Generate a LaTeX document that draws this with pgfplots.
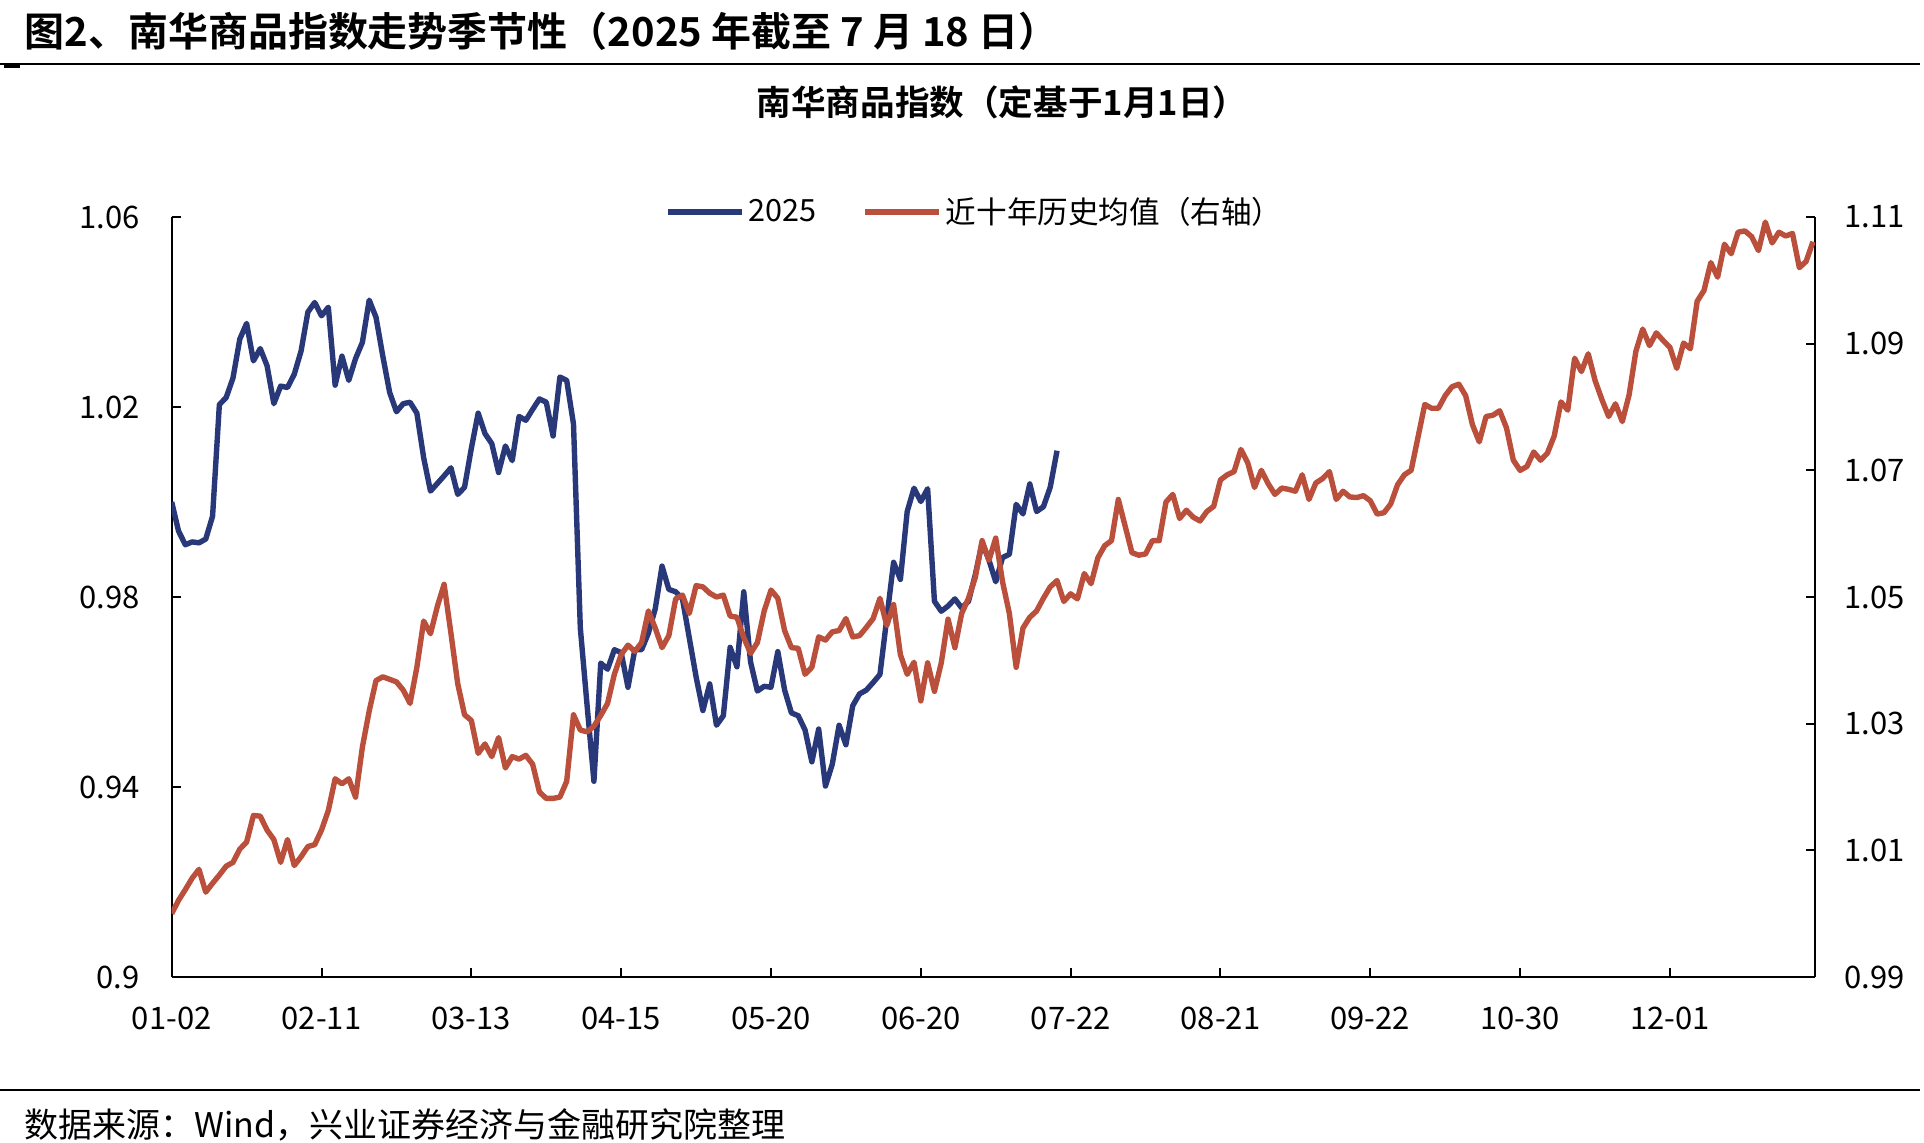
\documentclass[border=0pt]{standalone}
\usepackage{fontspec}
\setmainfont{Noto Sans CJK SC}[BoldFont={Noto Sans CJK SC Bold}]
\usepackage{pgfplots}
\usepackage{pgfplotstable}
\pgfplotsset{compat=1.18}
\definecolor{bl}{RGB}{41,56,120}
\definecolor{rd}{RGB}{186,80,60}

\pgfplotstableread{
x y
0 1.0000
1 0.9939
2 0.9910
3 0.9916
4 0.9914
5 0.9922
6 0.9970
7 1.0205
8 1.0220
9 1.0261
10 1.0343
11 1.0376
12 1.0297
13 1.0323
14 1.0287
15 1.0207
16 1.0244
17 1.0241
18 1.0269
19 1.0318
20 1.0400
21 1.0420
22 1.0392
23 1.0410
24 1.0246
25 1.0307
26 1.0256
27 1.0302
28 1.0336
29 1.0425
30 1.0389
31 1.0307
32 1.0231
33 1.0190
34 1.0207
35 1.0210
36 1.0187
37 1.0093
38 1.0023
39 1.0039
40 1.0055
41 1.0072
42 1.0016
43 1.0031
44 1.0113
45 1.0187
46 1.0144
47 1.0123
48 1.0062
49 1.0118
50 1.0087
51 1.0180
52 1.0172
53 1.0195
54 1.0217
55 1.0210
56 1.0139
57 1.0263
58 1.0256
59 1.0164
60 0.9735
61 0.9571
62 0.9412
63 0.9661
64 0.9648
65 0.9689
66 0.9683
67 0.9610
68 0.9689
69 0.9689
70 0.9724
71 0.9775
72 0.9865
73 0.9816
74 0.9811
75 0.9796
76 0.9714
77 0.9632
78 0.9561
79 0.9617
80 0.9530
81 0.9550
82 0.9694
83 0.9653
84 0.9811
85 0.9663
86 0.9602
87 0.9612
88 0.9610
89 0.9685
90 0.9604
91 0.9556
92 0.9550
93 0.9520
94 0.9453
95 0.9522
96 0.9402
97 0.9448
98 0.9530
99 0.9489
100 0.9571
101 0.9596
102 0.9604
103 0.9620
104 0.9637
105 0.9755
106 0.9873
107 0.9837
108 0.9980
109 1.0029
110 1.0001
111 1.0028
112 0.9791
113 0.9770
114 0.9781
115 0.9796
116 0.9777
117 0.9791
118 0.9847
119 0.9914
120 0.9878
121 0.9832
122 0.9883
123 0.9890
124 0.9995
125 0.9975
126 1.0038
127 0.9980
128 0.9990
129 1.0031
130 1.0108
}\blue

\pgfplotstableread{
x y
0 1.0000
1 1.0021
2 1.0038
3 1.0056
4 1.0070
5 1.0034
6 1.0048
7 1.0061
8 1.0075
9 1.0081
10 1.0102
11 1.0113
12 1.0155
13 1.0154
14 1.0132
15 1.0117
16 1.0081
17 1.0117
18 1.0076
19 1.0090
20 1.0106
21 1.0109
22 1.0132
23 1.0163
24 1.0213
25 1.0205
26 1.0213
27 1.0184
28 1.0263
29 1.0320
30 1.0368
31 1.0374
32 1.0370
33 1.0366
34 1.0353
35 1.0332
36 1.0389
37 1.0462
38 1.0442
39 1.0485
40 1.0520
41 1.0443
42 1.0363
43 1.0314
44 1.0305
45 1.0253
46 1.0268
47 1.0248
48 1.0278
49 1.0230
50 1.0248
51 1.0244
52 1.0250
53 1.0236
54 1.0192
55 1.0182
56 1.0182
57 1.0184
58 1.0209
59 1.0314
60 1.0290
61 1.0287
62 1.0296
63 1.0313
64 1.0332
65 1.0378
66 1.0409
67 1.0424
68 1.0414
69 1.0428
70 1.0478
71 1.0451
72 1.0420
73 1.0439
74 1.0497
75 1.0503
76 1.0474
77 1.0518
78 1.0516
79 1.0506
80 1.0500
81 1.0503
82 1.0470
83 1.0468
84 1.0436
85 1.0411
86 1.0428
87 1.0478
88 1.0511
89 1.0498
90 1.0447
91 1.0420
92 1.0419
93 1.0378
94 1.0389
95 1.0437
96 1.0432
97 1.0445
98 1.0447
99 1.0466
100 1.0437
101 1.0439
102 1.0452
103 1.0466
104 1.0498
105 1.0455
106 1.0488
107 1.0409
108 1.0378
109 1.0397
110 1.0336
111 1.0396
112 1.0351
113 1.0396
114 1.0465
115 1.0420
116 1.0474
117 1.0498
118 1.0531
119 1.0589
120 1.0558
121 1.0593
122 1.0524
123 1.0474
124 1.0389
125 1.0451
126 1.0468
127 1.0478
128 1.0498
129 1.0516
130 1.0526
131 1.0493
132 1.0505
133 1.0497
134 1.0537
135 1.0521
136 1.0562
137 1.0581
138 1.0589
139 1.0654
140 1.0612
141 1.0570
142 1.0566
143 1.0568
144 1.0589
145 1.0589
146 1.0650
147 1.0662
148 1.0624
149 1.0637
150 1.0626
151 1.0620
152 1.0635
153 1.0643
154 1.0685
155 1.0693
156 1.0698
157 1.0733
158 1.0712
159 1.0673
160 1.0700
161 1.0679
162 1.0662
163 1.0672
164 1.0670
165 1.0667
166 1.0693
167 1.0654
168 1.0680
169 1.0687
170 1.0698
171 1.0654
172 1.0667
173 1.0658
174 1.0657
175 1.0660
176 1.0652
177 1.0631
178 1.0633
179 1.0647
180 1.0677
181 1.0693
182 1.0700
183 1.0752
184 1.0804
185 1.0798
186 1.0798
187 1.0818
188 1.0832
189 1.0836
190 1.0818
191 1.0772
192 1.0745
193 1.0785
194 1.0787
195 1.0794
196 1.0767
197 1.0716
198 1.0700
199 1.0706
200 1.0729
201 1.0716
202 1.0727
203 1.0754
204 1.0808
205 1.0795
206 1.0877
207 1.0856
208 1.0884
209 1.0842
210 1.0812
211 1.0785
212 1.0805
213 1.0777
214 1.0819
215 1.0888
216 1.0923
217 1.0897
218 1.0917
219 1.0905
220 1.0894
221 1.0861
222 1.0901
223 1.0892
224 1.0967
225 1.0984
226 1.1028
227 1.1005
228 1.1057
229 1.1042
230 1.1076
231 1.1078
232 1.1069
233 1.1047
234 1.1092
235 1.1059
236 1.1076
237 1.1070
238 1.1074
239 1.1020
240 1.1030
241 1.1061
}\red

\begin{document}
\begin{tikzpicture}
\path[use as bounding box] (0,0) rectangle (962pt,-571.5pt);
\node[anchor=west,font=\bfseries\fontsize{20}{24}\selectfont,inner sep=0] at (12pt,-15.5pt) {图2、南华商品指数走势季节性（2025 年截至 7 月 18 日）};
\draw[line width=1pt] (0,-32pt) -- (960pt,-32pt);
\draw[line width=1.5pt] (2pt,-33.3pt) -- (10pt,-33.3pt);
\node[font=\bfseries\fontsize{17.3}{20}\selectfont] at (501pt,-51pt) {南华商品指数（定基于1月1日）};
\draw[line width=1pt] (0,-545pt) -- (960pt,-545pt);
\node[anchor=west,font=\fontsize{17}{20}\selectfont,inner sep=0] at (12pt,-562.5pt) {数据来源：Wind，兴业证券经济与金融研究院整理};

\pgfplotsset{
  base/.style={
    at={(85.85pt,-488.5pt)}, anchor=south west,
    scale only axis, width=821.65pt, height=380pt,
    xmin=0, xmax=241.3,
    tick align=inside, major tick length=4.5pt,
    axis line style={line width=1.2pt, black},
    tick style={line width=1pt, black},
    ticklabel style={font=\fontsize{15.5}{18}\selectfont},
  }
}
\begin{axis}[base,
  ymin=0.9, ymax=1.06,
  axis y line*=left, axis x line*=bottom,
  ytick={0.9,0.94,0.98,1.02,1.06},
  yticklabels={0.9,0.94,0.98,1.02,1.06},
  yticklabel style={xshift=-12.6pt},
  xtick={0,22,44,66,88,110,132,154,176,198,220},
  xticklabels={01-02,02-11,03-13,04-15,05-20,06-20,07-22,08-21,09-22,10-30,12-01},
  xticklabel style={yshift=-11.3pt},
]
\addplot[bl, line width=2.7pt, line join=round] table[x=x,y=y] {\blue};
\end{axis}
\begin{axis}[base,
  ymin=0.99, ymax=1.11,
  axis y line*=right, axis x line=none,
  ytick={0.99,1.01,1.03,1.05,1.07,1.09,1.11},
  yticklabels={0.99,1.01,1.03,1.05,1.07,1.09,1.11},
  yticklabel style={xshift=11.2pt},
  legend style={at={(0.4894,1.0066)}, anchor=center, draw=none, fill=none,
    font=\fontsize{15.3}{18}\selectfont,
    /tikz/every even column/.append style={column sep=20.8pt}},
  legend columns=2,
  legend image code/.code={\draw[#1] (0pt,0pt) -- (37pt,0pt);},
]
\addlegendimage{bl, line width=2.8pt}
\addlegendentry{2025}
\addplot[rd, line width=2.7pt, line join=round] table[x=x,y=y] {\red};
\addlegendentry{近十年历史均值（右轴）}
\end{axis}
\end{tikzpicture}
\end{document}
